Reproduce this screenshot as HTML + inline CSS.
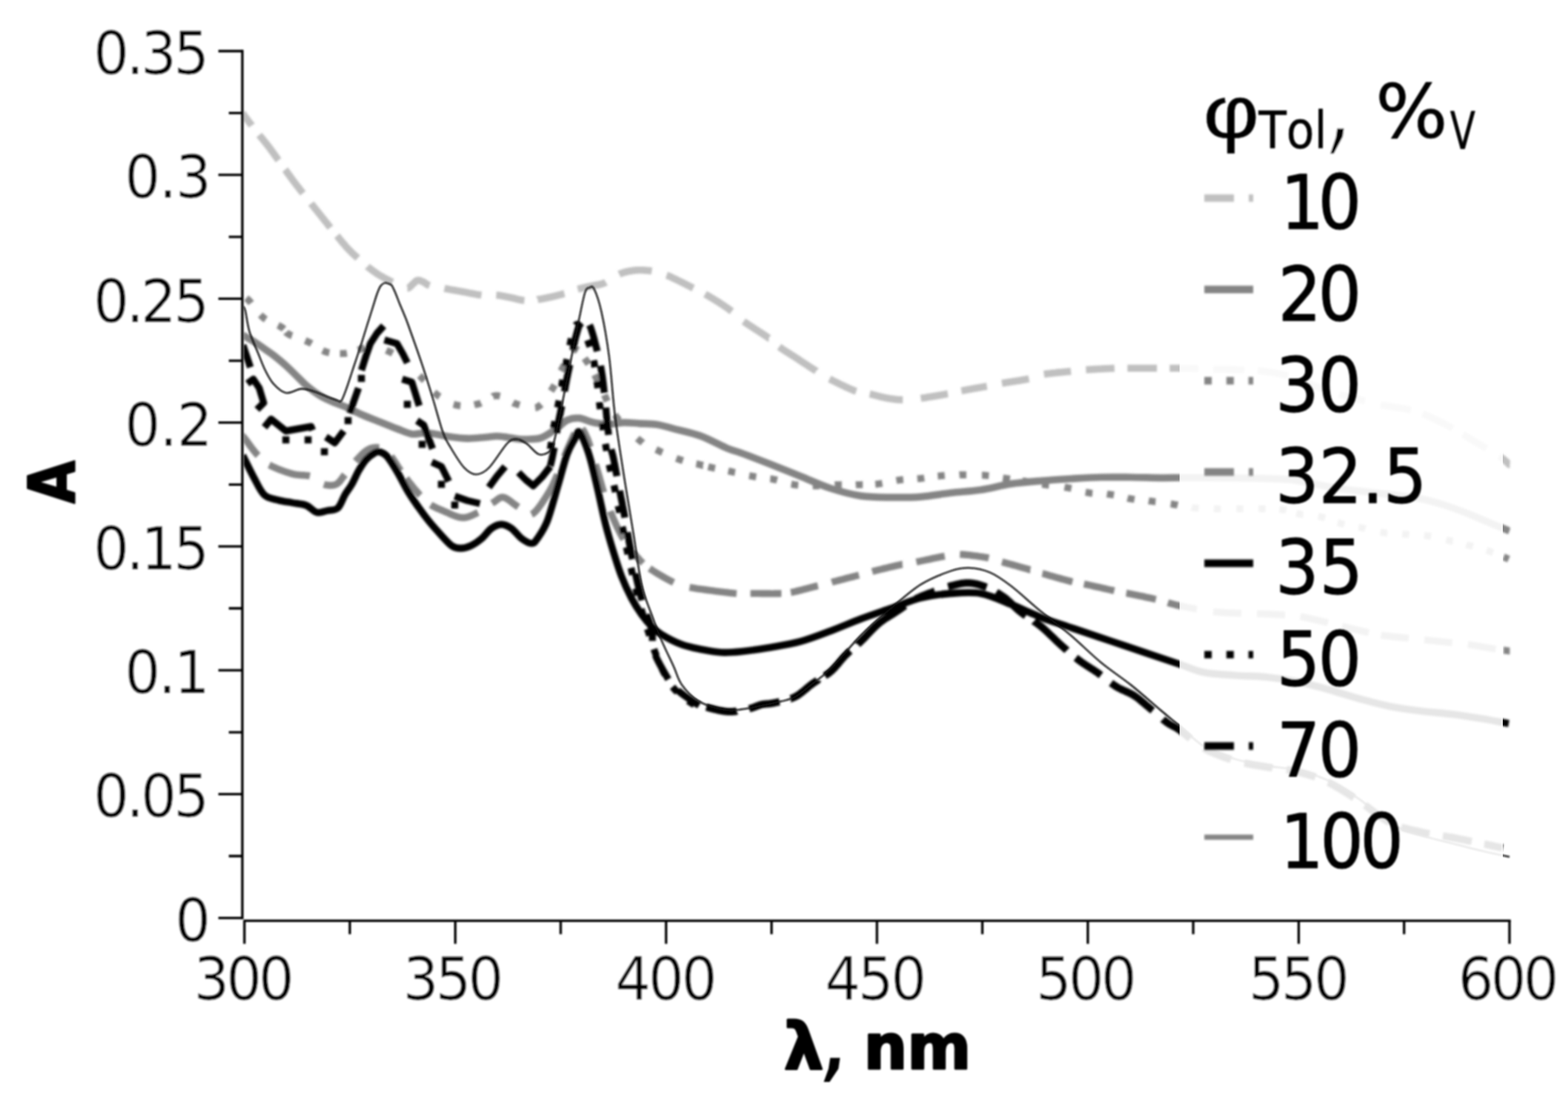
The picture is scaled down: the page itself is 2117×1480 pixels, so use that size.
<!DOCTYPE html>
<html lang="en">
<head>
<meta charset="utf-8">
<title>Absorption spectra</title>
<style>
html,body{margin:0;padding:0;background:#fff;}
body{width:2117px;height:1480px;overflow:hidden;}
svg{display:block;}
.t{font-family:'DejaVu Sans Condensed','DejaVu Sans','Liberation Sans',sans-serif;fill:#000;font-kerning:none;}
.b{font-family:'DejaVu Sans','Liberation Sans',sans-serif;font-weight:bold;fill:#000;}
.c{fill:none;stroke-linejoin:round;}
</style>
</head>
<body>
<svg width="2117" height="1480" viewBox="0 0 2117 1480">
<defs><filter id="soft" x="-2%" y="-2%" width="104%" height="104%"><feGaussianBlur stdDeviation="1.5"/></filter><filter id="soft2" x="-2%" y="-2%" width="104%" height="104%"><feGaussianBlur stdDeviation="0.8"/></filter><clipPath id="plot"><rect x="328.8" y="60" width="1710" height="1183"/></clipPath></defs>
<rect width="2117" height="1480" fill="#fff"/>
<g filter="url(#soft)">
<g class="c" clip-path="url(#plot)">
<!-- 10 -->
<path d="M327.5 153.0L327.8 153.3L328.0 153.7L328.3 154.1L328.7 154.6L329.1 155.1L329.5 155.7L329.9 156.3L330.4 156.9L330.9 157.5L331.4 158.2L331.9 158.9L332.5 159.7L333.1 160.5L333.7 161.3L334.3 162.1L335.0 163.0L335.7 163.9L336.4 164.9L337.2 165.9L338.0 166.9L338.9 168.1L339.8 169.2L340.0 169.5M350.0 182.3L350.7 183.2L351.6 184.2L352.4 185.3L353.3 186.3L354.1 187.3L355.0 188.4L355.8 189.4L356.7 190.5L357.5 191.5L358.4 192.6L359.3 193.7L360.2 194.9L361.1 196.0L362.0 197.2L363.0 198.5L364.0 199.8L365.0 201.2L366.0 202.5L367.0 204.0L368.1 205.4L369.2 206.9L370.2 208.4L371.3 209.9L372.4 211.4L373.5 212.9L374.6 214.5L375.7 216.0L376.0 216.4M385.0 229.0L385.3 229.4L386.3 230.8L387.4 232.3L388.4 233.8L389.5 235.3L390.6 236.7L391.6 238.2L392.7 239.7L393.8 241.1L394.8 242.6L395.9 244.0L397.0 245.5L398.1 247.0L399.2 248.4L400.3 249.9L401.4 251.3L402.6 252.7L403.7 254.2L404.8 255.6L405.9 257.1L407.1 258.5L408.2 259.9L409.0 260.9M420.0 274.8L420.6 275.6L421.8 277.0L422.9 278.4L424.0 279.8L425.1 281.2L426.2 282.6L427.4 284.0L428.5 285.4L429.6 286.8L430.8 288.2L431.9 289.6L433.0 291.0L434.1 292.4L435.2 293.8L436.4 295.2L437.5 296.6L438.6 298.1L439.8 299.5L440.9 300.9L442.0 302.3L443.1 303.7L444.2 305.1L445.4 306.5L446.0 307.3M455.0 318.4L455.6 319.1L456.8 320.6L457.9 322.0L459.1 323.4L460.2 324.8L461.4 326.2L462.5 327.6L463.7 328.9L464.8 330.2L465.9 331.5L466.9 332.7L468.0 333.9L469.0 335.0L470.0 336.1L470.9 337.1L471.9 338.0L472.8 338.9L473.6 339.8L474.5 340.7L475.3 341.5L476.2 342.3L477.0 343.1L477.9 343.8L478.7 344.6L479.5 345.3L480.4 346.1L481.2 346.9L482.1 347.7L483.0 348.5M496.0 359.9L496.1 360.0L497.1 360.8L498.0 361.5L498.9 362.2L499.9 362.9L500.8 363.6L501.7 364.3L502.6 365.0L503.5 365.7L504.5 366.3L505.4 367.0L506.3 367.6L507.2 368.3L508.2 368.9L509.1 369.5L510.1 370.2L511.0 370.8L512.0 371.4L513.0 372.0L514.0 372.6L515.1 373.2L516.1 373.8L517.2 374.4L518.3 375.0L519.4 375.6L520.5 376.2L521.6 376.8L522.7 377.3L523.8 377.9L524.9 378.4L526.0 379.0L527.0 379.5L528.1 380.0L529.0 380.5L530.0 381.0M550.0 389.2L550.1 389.2L550.5 389.1L551.0 389.0L551.5 388.8L551.9 388.6L552.4 388.3L552.8 388.0L553.3 387.6L553.7 387.2L554.2 386.8L554.6 386.4L555.1 385.9L555.5 385.5L555.9 385.0L556.3 384.6L556.8 384.1L557.2 383.7L557.6 383.3L558.0 383.0L558.4 382.7L558.8 382.3L559.2 382.0L559.5 381.6L559.9 381.2L560.2 380.9L560.6 380.6L560.9 380.2L561.3 379.9L561.6 379.6L562.0 379.3L562.4 379.1L562.8 378.9L563.2 378.7L563.6 378.6L564.0 378.5L564.4 378.5L564.9 378.5L565.4 378.5L565.9 378.6L566.4 378.7L566.9 378.8L567.4 379.0L567.9 379.2L568.4 379.4L568.9 379.6L569.4 379.8L570.0 380.1L570.5 380.3L571.0 380.5L571.5 380.8L572.0 381.0L572.5 381.2L572.9 381.5L573.3 381.7L573.7 382.0L574.1 382.3L574.5 382.6L574.9 382.9L575.2 383.2L575.7 383.5L576.1 383.8L576.6 384.1L577.2 384.4L577.8 384.7L578.4 384.9L579.2 385.2L580.0 385.5M600.0 389.5L601.4 389.8L602.9 390.0L604.4 390.3L605.9 390.6L607.4 390.9L609.0 391.2L610.6 391.4L612.2 391.7L613.8 392.0L615.4 392.3L617.0 392.6L618.6 392.9L620.2 393.1L621.8 393.4L623.4 393.7L625.0 394.0L626.6 394.3L628.2 394.6L629.8 394.9L631.4 395.2L633.0 395.6L634.6 395.9L636.2 396.2L637.8 396.5L639.4 396.8L641.0 397.1L642.6 397.4L644.1 397.7L645.6 397.9L647.1 398.2L648.6 398.3L650.0 398.5M670.0 398.5L671.3 398.6L672.5 398.8L673.8 398.9L675.1 399.1L676.4 399.3L677.6 399.6L678.9 399.8L680.2 400.0L681.5 400.3L682.7 400.5L684.0 400.8L685.2 401.0L686.4 401.3L687.6 401.5L688.8 401.8L690.0 402.0L691.1 402.2L692.3 402.5L693.4 402.7L694.4 403.0L695.5 403.3L696.6 403.5L697.6 403.8L698.6 404.1L699.7 404.3L700.7 404.6L701.7 404.8L702.8 405.0L703.8 405.2L704.8 405.4L705.9 405.5L707.0 405.6L708.0 405.7M726.0 404.5L726.2 404.4L727.3 404.3L728.5 404.1L729.7 403.9L730.9 403.7L732.1 403.5L733.3 403.3L734.5 403.0L735.7 402.8L736.9 402.5L738.1 402.3L739.3 402.0L740.5 401.8L741.7 401.5L742.8 401.3L744.0 401.0L745.1 400.7L746.3 400.5L747.4 400.2L748.5 400.0L749.6 399.7L750.7 399.4L751.8 399.2L752.8 398.9L753.9 398.6L755.0 398.3L756.1 398.1L757.2 397.8L758.3 397.5L759.4 397.1L760.5 396.8L761.6 396.5L762.0 396.4M780.0 390.4L781.2 390.1L782.4 389.8L783.7 389.5L785.0 389.2L786.3 388.9L787.5 388.6L788.8 388.3L790.1 388.1L791.4 387.8L792.7 387.5L794.0 387.3L795.2 387.0L796.5 386.8L797.7 386.5L798.8 386.3L800.0 386.0L801.1 385.8L802.2 385.5L803.2 385.3L804.2 385.2L805.2 385.0L806.2 384.8L807.2 384.7L808.1 384.5L809.1 384.3L810.1 384.1L811.0 383.8L812.0 383.6L813.0 383.2L814.1 382.9L815.2 382.5L816.3 382.0L817.5 381.5L818.0 381.2M836.0 370.3L836.6 370.0L837.9 369.5L839.2 369.0L840.5 368.5L841.9 368.1L843.2 367.7L844.5 367.3L845.9 367.0L847.2 366.7L848.5 366.4L849.9 366.1L851.2 365.9L852.6 365.7L853.9 365.5L855.3 365.3L856.6 365.1L858.0 365.0L859.4 364.9L860.7 364.8L862.1 364.8L863.5 364.7L865.0 364.7L866.4 364.8L867.8 364.8L869.2 364.9L870.6 365.0L872.0 365.1L873.4 365.2L874.7 365.3L876.1 365.5L877.4 365.6L878.7 365.8L880.0 366.0M900.0 371.6L900.6 371.8L901.7 372.3L902.8 372.8L903.9 373.2L905.0 373.7L906.1 374.2L907.2 374.8L908.3 375.3L909.4 375.8L910.5 376.3L911.6 376.9L912.7 377.4L913.8 377.9L914.9 378.5L916.0 379.0L917.1 379.5L918.2 380.1L919.3 380.6L920.5 381.2L921.6 381.7L922.7 382.3L923.8 382.9L924.9 383.4L926.1 384.0L927.2 384.6L928.3 385.2L929.4 385.7L930.6 386.3L931.7 386.9L932.8 387.4L933.9 388.0L935.0 388.6L936.0 389.1M952.0 397.2L952.7 397.6L953.9 398.3L955.0 398.9L956.2 399.6L957.3 400.2L958.5 400.9L959.6 401.6L960.8 402.3L961.9 403.0L963.1 403.7L964.2 404.4L965.4 405.1L966.5 405.8L967.7 406.5L968.9 407.3L970.0 408.0L971.2 408.7L972.3 409.5L973.5 410.3L974.6 411.0L975.8 411.8L977.0 412.6L978.2 413.4L979.3 414.2L980.5 414.9L981.6 415.7L982.8 416.5L983.9 417.4L985.0 418.2L986.1 419.0L987.2 419.8L988.0 420.4M1004.0 434.0L1005.6 435.1L1007.4 436.4L1009.3 437.6L1011.3 439.0L1013.5 440.4L1015.7 441.8L1017.9 443.3L1020.2 444.8L1022.5 446.2L1024.8 447.7L1027.0 449.1L1029.1 450.5L1031.2 451.9L1033.1 453.1L1034.9 454.4L1036.5 455.5L1037.9 456.6L1038.0 456.6M1052.0 468.4L1052.7 468.9L1054.0 469.8L1055.3 470.7L1056.6 471.6L1058.0 472.6L1059.5 473.5L1060.9 474.4L1062.4 475.4L1063.9 476.3L1065.4 477.3L1067.0 478.2L1068.5 479.2L1070.0 480.2L1071.5 481.1L1073.0 482.1L1074.5 483.0L1076.0 484.0L1077.5 485.0L1078.9 485.9L1080.4 486.9L1081.9 487.9L1083.4 488.9L1084.9 489.9L1086.4 490.8L1087.8 491.8L1089.3 492.8L1090.8 493.8L1092.2 494.7L1093.7 495.7L1095.1 496.6L1096.5 497.5L1097.9 498.4L1099.3 499.3L1100.6 500.1L1101.9 500.9L1102.0 501.0M1120.0 511.7L1121.4 512.4L1123.3 513.4L1125.4 514.5L1127.5 515.5L1129.8 516.7L1132.1 517.8L1134.4 519.0L1136.8 520.1L1139.2 521.2L1141.5 522.3L1143.8 523.4L1146.1 524.4L1148.2 525.3L1150.3 526.2L1152.2 527.0L1154.0 527.7L1155.7 528.3L1156.0 528.4M1174.3 532.0L1175.7 532.3L1177.0 532.7L1178.4 533.0L1179.8 533.4L1181.2 533.7L1182.7 534.1L1184.1 534.5L1185.5 534.9L1187.0 535.2L1188.4 535.6L1189.9 536.0L1191.3 536.3L1192.8 536.6L1194.2 537.0L1195.6 537.2L1197.0 537.5L1198.4 537.7L1199.8 538.0L1201.1 538.2L1202.5 538.4L1203.8 538.6L1205.2 538.8L1206.5 539.0L1207.9 539.2L1209.2 539.3L1210.5 539.5L1211.9 539.6L1213.3 539.7L1214.7 539.8L1216.1 539.8L1217.5 539.9L1218.9 539.9M1243.2 537.8L1245.2 537.5L1247.3 537.2L1249.5 536.9L1251.9 536.5L1254.3 536.1L1256.8 535.8L1259.3 535.3L1261.8 534.9L1264.3 534.5L1266.8 534.1L1269.2 533.7L1271.6 533.3L1273.8 532.9L1275.9 532.5L1277.9 532.1L1279.7 531.8M1298.0 527.7L1299.7 527.4L1301.6 527.0L1303.7 526.7L1305.8 526.3L1308.0 525.9L1310.3 525.5L1312.7 525.1L1315.1 524.6L1317.5 524.2L1319.8 523.8L1322.2 523.4L1324.4 523.0L1326.6 522.6L1328.7 522.3L1330.6 521.9L1332.4 521.6M1352.7 517.6L1354.6 517.3L1356.6 516.9L1358.8 516.6L1361.1 516.2L1363.5 515.8L1365.9 515.5L1368.4 515.1L1371.0 514.7L1373.5 514.3L1376.0 513.9L1378.4 513.5L1380.8 513.1L1383.1 512.7L1385.3 512.3L1387.3 511.9L1389.2 511.5M1409.5 505.4L1411.4 505.1L1413.4 504.8L1415.6 504.5L1417.8 504.2L1420.2 503.9L1422.7 503.7L1425.2 503.4L1427.7 503.1L1430.2 502.9L1432.7 502.7L1435.2 502.4L1437.6 502.2L1439.8 502.0L1442.0 501.8L1444.0 501.6L1445.9 501.4M1466.2 499.3L1468.1 499.2L1470.3 499.0L1472.6 498.9L1475.0 498.7L1477.6 498.6L1480.2 498.5L1482.9 498.3L1485.6 498.2L1488.3 498.0L1490.9 497.9L1493.5 497.8L1496.1 497.7L1498.5 497.5L1500.7 497.5L1502.8 497.4L1504.7 497.3M1522.2 497.3L1523.0 497.3L1524.9 497.3L1526.8 497.3L1529.0 497.3L1531.2 497.3L1533.5 497.3L1536.0 497.3L1538.4 497.3L1541.0 497.3L1543.6 497.3L1546.2 497.3L1548.8 497.3L1551.4 497.3L1554.0 497.3L1556.5 497.3L1559.1 497.3L1561.5 497.3L1562.0 497.3M1579.2 497.2L1580.8 497.2L1583.2 497.2L1585.6 497.2L1588.0 497.2L1590.4 497.2L1592.8 497.2L1595.2 497.2L1597.6 497.3L1600.0 497.3L1602.4 497.3L1604.7 497.4L1607.1 497.5L1609.4 497.5L1611.8 497.6L1614.1 497.7L1616.4 497.8L1618.0 497.8M1638.0 498.5L1640.6 498.6L1643.2 498.6L1645.9 498.7L1648.7 498.7L1651.5 498.8L1654.4 498.8L1657.2 498.9L1660.1 498.9L1662.9 499.0L1665.6 499.1L1668.3 499.1L1670.9 499.2L1673.4 499.2L1675.7 499.3L1677.9 499.3L1680.0 499.4M1698.0 500.2L1699.2 500.4L1701.0 500.6L1702.9 500.9L1704.9 501.1L1707.0 501.4L1709.2 501.7L1711.4 502.0L1713.7 502.4L1716.1 502.7L1718.5 503.1L1721.0 503.6L1723.6 504.0L1726.2 504.6L1728.8 505.1L1731.6 505.8L1734.3 506.4L1737.1 507.2L1739.0 507.7M1755.0 513.2L1756.1 513.6L1759.6 515.0L1763.1 516.4L1766.6 517.8L1770.2 519.2L1773.7 520.6L1777.1 522.0L1780.5 523.3L1783.9 524.6L1787.0 525.8L1790.0 526.9M1808.0 532.4L1808.2 532.5L1810.4 533.1L1812.7 533.6L1814.8 534.2L1817.0 534.7L1819.2 535.3L1821.3 535.8L1823.4 536.3L1825.6 536.9L1827.8 537.4L1830.0 538.0L1832.2 538.6L1834.4 539.2L1836.6 539.8L1838.7 540.3L1840.9 540.9L1843.0 541.5L1843.0 541.5M1864.0 546.6L1864.5 546.7L1866.8 547.2L1869.1 547.6L1871.5 548.0L1874.0 548.4L1876.4 548.8L1878.9 549.1L1881.4 549.5L1883.8 549.9L1886.3 550.2L1888.7 550.6L1891.1 551.0L1893.4 551.3L1895.7 551.7L1897.9 552.1L1900.0 552.6L1902.0 553.0L1903.9 553.5L1905.0 553.7M1920.6 558.7L1921.9 559.3L1923.5 559.9L1925.2 560.6L1927.0 561.4L1928.9 562.2L1930.9 563.1L1933.0 564.1L1935.1 565.1L1937.3 566.1L1939.6 567.2L1941.9 568.3L1944.1 569.4L1946.4 570.6L1948.7 571.7L1950.9 572.8L1953.0 573.9L1955.1 575.0L1957.1 576.1L1959.0 577.1L1960.8 578.0L1961.5 578.4M1975.0 586.5L1975.4 586.7L1976.8 587.6L1978.3 588.5L1979.9 589.6L1981.8 590.7L1983.9 592.0L1986.2 593.3L1988.8 594.8L1991.5 596.4L1994.3 598.1L1997.2 599.8L2000.2 601.5L2003.2 603.3L2006.2 605.1L2007.0 605.6M2024.0 616.0L2025.4 616.9L2026.9 618.0L2028.3 619.0L2029.6 619.9L2030.7 620.8L2031.7 621.7L2032.6 622.5L2033.5 623.2L2034.2 623.9L2034.9 624.6L2035.5 625.2L2036.1 625.7L2036.6 626.2L2037.1 626.7L2037.5 627.1L2038.0 627.5L2038.5 627.5" stroke="#c0c0c0" stroke-width="9.6"/>
<!-- 20 -->
<path d="M327.5 452.5C330.5 454.2 340.6 459.9 345.5 463.0C350.4 466.1 353.0 468.2 356.8 470.9C360.6 473.5 364.4 476.0 368.2 478.9C372.0 481.8 375.7 484.8 379.5 488.0C383.3 491.2 387.1 494.6 390.9 498.2C394.7 501.8 398.5 505.8 402.3 509.5C406.1 513.2 409.8 517.2 413.6 520.5C417.4 523.8 421.2 526.8 425.0 529.5C428.8 532.2 432.6 534.7 436.4 536.8C440.2 538.9 443.9 540.4 447.7 542.0C451.5 543.6 455.3 545.0 459.0 546.5C462.7 548.0 465.0 548.7 470.0 551.0C475.0 553.3 482.1 557.1 489.2 560.2C496.3 563.3 505.0 566.6 512.9 569.7C520.8 572.9 529.4 576.4 536.5 579.1C543.6 581.8 549.9 585.0 555.5 586.0C561.1 587.0 565.3 585.1 570.0 585.0C574.7 584.9 577.6 584.7 583.9 585.5C590.1 586.3 599.6 588.7 607.5 589.8C615.4 590.9 623.3 592.0 631.2 592.1C639.1 592.2 648.3 591.0 654.8 590.5C661.3 590.0 665.4 589.0 670.4 589.0C675.4 589.0 679.9 589.8 685.0 590.5C690.1 591.2 695.6 592.6 700.8 593.0C706.0 593.4 710.9 593.3 716.0 593.0C721.1 592.7 725.3 593.4 731.2 591.0C737.1 588.6 745.7 582.7 751.4 578.8C757.1 574.9 760.5 569.9 765.6 567.5C770.7 565.1 775.7 564.2 781.8 564.7C787.9 565.2 795.2 569.4 802.0 570.7C808.8 572.1 815.6 572.8 822.4 572.8C829.2 572.8 835.8 570.9 842.6 570.7C849.4 570.5 855.7 571.4 863.0 571.8C870.3 572.2 878.6 572.0 886.5 573.2C894.4 574.4 900.3 576.5 910.2 579.1C920.1 581.7 933.9 584.3 945.7 588.6C957.5 592.9 972.2 601.3 981.2 605.1C990.2 608.9 990.1 607.9 1000.0 611.5C1009.9 615.1 1027.0 621.7 1040.5 627.0C1054.0 632.3 1067.5 637.8 1081.0 643.2C1094.5 648.6 1108.1 655.1 1121.6 659.5C1135.1 663.9 1148.7 667.6 1162.2 669.6C1175.7 671.6 1189.2 671.4 1202.7 671.6C1216.2 671.8 1229.7 671.8 1243.2 670.8C1256.7 669.8 1270.3 667.0 1283.8 665.5C1297.3 664.0 1310.8 663.5 1324.3 661.5C1337.8 659.5 1351.4 655.4 1364.9 653.4C1378.4 651.4 1391.9 650.4 1405.4 649.3C1418.9 648.1 1432.4 647.3 1445.9 646.5C1459.4 645.7 1473.0 644.8 1486.5 644.5C1500.0 644.2 1513.5 644.4 1527.0 644.5C1540.5 644.6 1555.4 645.2 1567.6 645.3C1579.8 645.4 1586.3 645.0 1600.0 645.0C1613.7 645.0 1633.3 645.2 1650.0 645.3C1666.7 645.4 1685.0 645.4 1700.0 645.8C1715.0 646.2 1729.7 646.6 1740.0 647.5C1750.3 648.4 1750.5 649.0 1761.7 651.0C1772.9 653.0 1791.9 657.2 1807.0 659.5C1822.1 661.8 1833.6 662.6 1852.5 665.0C1871.4 667.4 1901.7 670.2 1920.6 674.0C1939.5 677.8 1950.9 682.2 1966.0 687.5C1981.1 692.8 1999.4 701.1 2011.4 706.0C2023.4 710.9 2033.6 715.2 2038.0 717.0" stroke="#848484" stroke-width="9.7"/>
<!-- 30 -->
<path d="M332.4 402.6L332.9 403.0L333.5 403.5L334.3 404.1L335.0 404.8L335.8 405.5L336.7 406.4L337.6 407.4L338.5 408.5L339.1 409.3M351.6 425.2L352.9 426.5L354.2 427.8L355.6 429.0L357.0 430.1L358.5 431.1L358.8 431.3M375.4 439.3L376.6 439.9L378.0 440.6L379.3 441.3L380.4 442.0L381.4 442.7L382.2 443.3L382.9 444.0L383.3 444.4M386.2 448.6L386.6 449.1L387.2 449.6L388.0 450.2L388.9 450.8L389.9 451.4L391.1 452.0L392.5 452.7L394.0 453.3L394.3 453.4M412.1 459.9L413.7 460.6L415.4 461.3L417.0 462.0L418.5 462.8L420.0 463.6L420.7 464.0M435.6 473.3L436.8 473.9L438.2 474.5L439.6 475.0L441.1 475.5L442.5 475.8L444.1 476.2L444.6 476.3M459.0 477.5L459.2 477.5L460.6 477.4L461.9 477.4L463.2 477.4L464.4 477.4L465.6 477.3L466.7 477.2L467.8 477.0L468.4 476.9M483.6 472.8L484.6 472.4L485.8 471.9L487.0 471.4L488.2 470.9L489.4 470.4L490.7 469.9L491.9 469.4L492.4 469.2M521.6 473.1L522.9 473.7L524.5 474.3L526.0 475.0L527.5 475.7L528.9 476.5L530.2 477.2M566.4 507.1L567.1 507.8L568.4 509.2L569.7 510.5L571.0 511.9L572.2 513.3L572.9 514.0M586.2 529.9L587.0 530.6L588.4 531.8L589.8 533.0L591.3 534.1L592.8 535.3L593.6 535.8M612.4 545.9L613.5 546.2L615.2 546.8L617.0 547.2L618.8 547.5L620.6 547.8L621.7 547.9M640.4 546.6L640.8 546.5L642.6 546.2L644.3 545.8L646.0 545.4L647.6 544.9L649.3 544.3L649.5 544.2M665.7 535.2L665.8 535.1L667.3 534.7L668.8 534.4L670.4 534.3L672.0 534.4L673.6 534.7L675.0 535.0M692.6 543.8L693.3 544.2L695.0 544.8L696.7 545.4L698.4 545.9L700.2 546.5L701.5 546.9M722.6 550.7L723.4 550.6L725.0 550.0L726.5 549.2L728.1 548.2L729.6 547.0L730.7 546.0M743.9 528.0L744.2 527.5L745.3 525.7L746.4 524.0L747.4 522.3L748.4 520.6L748.8 519.9M757.4 501.0L757.9 500.1L758.7 498.4L759.6 496.8L760.5 495.1L761.5 493.3L761.9 492.6M772.3 474.8L772.9 474.1L773.9 473.1L775.0 472.4L776.0 472.0L777.0 471.8L778.0 471.9L779.0 472.2L780.0 472.7L780.5 473.0M789.3 483.8L789.9 484.7L790.9 486.2L792.0 487.7L793.1 489.2L794.1 490.9L794.6 491.7M802.8 506.2L803.0 506.6L804.2 508.8L805.3 511.0L806.5 513.2L807.2 514.6M816.1 533.2L816.7 534.7L817.9 537.2L819.0 539.8L819.9 541.9M830.1 560.2L831.8 562.4L833.6 564.8L835.6 567.2L836.0 567.6M860.4 591.9L862.1 593.4L864.0 595.0L865.9 596.5L867.7 597.8L867.8 597.9M885.7 607.1L887.0 607.7L888.7 608.4L890.3 609.2L892.0 610.0L893.6 610.8L894.3 611.1M913.1 619.0L913.9 619.3L915.6 619.9L917.3 620.5L919.1 621.1L920.9 621.6L922.1 622.0M940.0 626.3L941.2 626.5L942.8 626.9L944.3 627.3L945.7 627.6L947.0 627.9L948.1 628.2L949.0 628.5L949.2 628.5M956.2 630.3L956.6 630.4L957.5 630.7L958.6 630.9L959.9 631.2L961.3 631.5L962.8 631.8L964.4 632.2L965.4 632.4M983.2 636.0L984.7 636.3L986.5 636.7L988.3 637.1L990.1 637.5L991.8 637.9L992.4 638.0M1011.5 642.3L1012.7 642.5L1014.4 642.9L1016.2 643.2L1018.0 643.5L1019.7 643.8L1020.9 644.0M1039.9 646.5L1041.0 646.6L1042.8 647.0L1044.6 647.3L1046.4 647.7L1048.1 648.1L1049.2 648.4M1068.3 653.7L1069.4 653.9L1071.2 654.3L1073.0 654.6L1074.8 654.9L1076.6 655.1L1077.7 655.2M1097.3 656.0L1098.3 656.0L1100.2 656.0L1102.0 656.0L1103.8 656.0L1105.7 655.9L1106.7 655.9M1127.1 654.8L1128.1 654.7L1130.0 654.7L1131.8 654.6L1133.6 654.6L1135.4 654.5L1136.5 654.5M1155.4 654.7L1156.7 654.6L1158.4 654.6L1160.1 654.6L1161.8 654.6L1163.5 654.5L1164.8 654.5M1181.8 653.9L1183.1 653.8L1184.8 653.6L1186.5 653.4L1188.2 653.2L1190.0 652.9L1191.2 652.7M1210.2 648.8L1211.3 648.6L1213.1 648.3L1214.9 648.1L1216.7 647.9L1218.4 647.7L1219.6 647.6M1238.5 646.5L1239.7 646.4L1241.5 646.3L1243.2 646.1L1244.9 645.9L1246.7 645.7L1247.9 645.5M1266.1 642.9L1267.3 642.8L1269.0 642.6L1270.8 642.4L1272.6 642.3L1274.4 642.1L1275.5 642.0M1295.3 641.3L1296.3 641.2L1298.1 641.2L1300.0 641.2L1301.9 641.2L1303.8 641.2L1304.7 641.2M1325.7 641.7L1326.7 641.7L1328.6 641.9L1330.4 642.0L1332.2 642.2L1334.1 642.4L1335.1 642.5M1354.1 645.4L1355.4 645.6L1357.1 645.8L1358.8 646.1L1360.5 646.3L1362.2 646.6L1363.5 646.8M1380.3 649.3L1381.7 649.5L1383.4 649.7L1385.0 650.0L1386.6 650.3L1388.3 650.5L1389.7 650.8M1406.8 653.9L1408.0 654.0L1409.7 654.3L1411.5 654.6L1413.3 654.9L1415.1 655.1L1416.2 655.2M1437.2 657.8L1438.2 658.0L1440.0 658.3L1441.9 658.6L1443.7 659.0L1445.5 659.4L1446.5 659.6M1465.6 664.6L1466.8 664.8L1468.5 665.2L1470.3 665.5L1472.1 665.8L1473.8 666.0L1475.0 666.1M1494.5 667.1L1495.1 667.2L1496.8 667.4L1498.6 667.6L1500.4 667.9L1502.1 668.2L1503.9 668.5M1522.3 672.7L1523.4 673.0L1525.2 673.3L1527.0 673.6L1528.8 673.9L1530.5 674.1L1531.7 674.3M1550.8 676.3L1551.9 676.5L1553.6 676.7L1555.4 676.9L1557.2 677.1L1558.9 677.4L1560.2 677.5M1580.6 680.5L1582.0 680.7L1583.8 681.0L1585.6 681.3L1587.4 681.6L1589.2 681.9L1590.0 682.1M1609.1 685.4L1609.3 685.5L1611.2 685.7L1613.0 685.9L1614.8 686.1L1616.7 686.2L1618.5 686.4L1618.5 686.4M1638.9 686.9L1640.6 687.0L1642.4 687.0L1644.2 687.0L1646.0 687.1L1647.9 687.1L1648.3 687.1M1669.3 687.0L1669.8 687.0L1671.8 687.0L1673.8 687.0L1675.8 687.0L1677.9 687.0L1678.7 687.0M1699.1 686.9L1699.5 686.9L1701.5 687.0L1703.4 687.0L1705.3 687.0L1707.1 687.0L1708.5 687.0M1727.3 687.6L1727.3 687.6L1728.8 687.8L1730.4 688.0L1732.0 688.3L1733.5 688.5L1735.1 688.9L1736.6 689.3L1736.6 689.3M1750.2 693.1L1750.6 693.2L1752.3 693.6L1753.9 694.0L1755.6 694.3L1757.3 694.6L1759.1 694.9L1759.5 694.9M1779.7 697.4L1781.4 697.7L1783.2 698.0L1784.9 698.4L1786.6 698.8L1788.2 699.3L1789.0 699.5M1805.9 705.6L1806.7 705.8L1808.3 706.3L1810.0 706.8L1811.7 707.2L1813.5 707.7L1815.1 708.1M1834.2 712.0L1835.6 712.2L1837.5 712.6L1839.3 713.0L1841.1 713.4L1843.0 713.8L1843.5 714.0M1863.7 718.6L1865.0 718.8L1866.9 719.1L1868.7 719.4L1870.5 719.6L1872.4 719.9L1873.1 719.9M1893.2 721.2L1894.3 721.3L1896.2 721.4L1898.0 721.5L1899.8 721.6L1901.7 721.7L1902.6 721.8M1922.7 723.0L1923.6 723.1L1925.5 723.4L1927.3 723.6L1929.1 723.9L1931.0 724.2L1932.1 724.4M1952.4 728.9L1953.1 729.1L1954.9 729.5L1956.6 729.9L1958.3 730.3L1959.9 730.7L1961.5 731.0L1961.6 731.0M1979.6 735.4L1980.1 735.6L1981.8 736.0L1983.5 736.5L1985.3 736.9L1987.1 737.4L1988.8 737.9M2006.9 743.1L2007.5 743.3L2009.3 743.9L2011.0 744.5L2012.8 745.1L2014.6 745.8L2015.9 746.3M2030.1 752.1L2030.9 752.4L2032.4 753.1L2033.8 753.7L2035.0 754.2L2036.1 754.6L2037.0 755.0" stroke="#848484" stroke-width="9.4"/>
<!-- 32.5 -->
<path d="M327.5 589.0L327.7 589.0L327.8 589.1L327.8 589.2L327.9 589.2L327.9 589.2L328.0 589.3L328.0 589.3L328.1 589.4L328.2 589.5L328.3 589.6L328.5 589.8L328.7 590.0L329.0 590.4L329.3 590.8L329.8 591.3L330.2 591.9L330.8 592.6L331.5 593.5L332.2 594.5L333.1 595.6L334.0 596.8L335.0 598.2L336.0 599.6L337.1 601.1L338.2 602.6L339.4 604.1L340.5 605.7L341.7 607.2L342.9 608.7L344.0 610.1L345.1 611.5L346.2 612.7L347.3 613.9L348.3 615.0L348.4 615.1M363.5 627.8L363.9 628.0L365.4 628.8L367.1 629.7L368.9 630.5L370.7 631.3L372.6 632.2L374.6 633.0L376.6 633.8L378.7 634.6L380.7 635.4L382.8 636.1L384.9 636.9L386.9 637.6L388.9 638.2L390.9 638.8L392.8 639.4L394.6 639.9L396.4 640.3L398.1 640.7L399.9 641.0L401.7 641.2L403.4 641.4L405.1 641.5L406.8 641.6L408.5 641.7L410.1 641.8L411.7 641.9L413.3 642.1L414.9 642.2L416.4 642.4L417.8 642.7L418.3 642.8M437.3 654.0L438.2 654.3L439.3 654.6L440.4 654.8L441.5 655.0L442.5 655.2L443.6 655.3L444.7 655.4L445.8 655.5L446.9 655.5L447.9 655.4L449.0 655.3L450.0 655.2L451.0 655.0L452.0 654.7L452.9 654.4L453.8 654.0L454.7 653.6L455.5 653.0L456.3 652.4L457.0 651.8L457.8 651.1L458.5 650.3L459.2 649.5L459.9 648.6L460.5 647.7L461.2 646.8L461.9 645.9L462.6 644.9L463.3 643.9L464.0 643.0L464.8 642.0L465.6 641.0M480.0 622.8L480.8 621.9L481.8 620.9L482.8 619.8L483.8 618.7L484.8 617.6L485.9 616.5L487.0 615.4L488.0 614.3L489.1 613.3L490.1 612.3L491.2 611.3L492.2 610.4L493.3 609.6L494.3 608.8L495.3 608.1L496.3 607.5L497.3 607.0L498.2 606.5L499.2 606.0L500.1 605.6L501.1 605.3L502.0 605.0L502.9 604.8L503.9 604.6L504.8 604.5L505.7 604.4L506.6 604.3L507.5 604.3L508.4 604.3L509.3 604.3L510.1 604.4L511.0 604.5L511.8 604.6L512.0 604.6M528.0 616.0L528.5 616.8L529.8 618.6L531.0 620.4L532.3 622.4L533.6 624.4L534.9 626.4L536.3 628.5L537.6 630.6L538.9 632.6L540.2 634.6L541.0 635.7M548.4 645.9L548.9 646.5L550.1 648.1L551.3 649.7L552.5 651.3L553.8 652.8L554.9 654.3L556.1 655.8L557.3 657.3L558.5 658.7L559.6 660.1L560.8 661.4L561.9 662.7L563.0 664.0L564.1 665.2L565.1 666.4L566.1 667.6L567.1 668.7L567.3 668.9M581.5 681.7L582.3 682.2L583.4 682.9L584.5 683.5L585.6 684.1L586.7 684.7L587.9 685.2L589.0 685.8L590.2 686.3L591.4 686.8L592.7 687.4L594.0 687.9L595.3 688.5L596.6 689.0L598.0 689.6L599.4 690.2L600.9 690.9L602.5 691.6L604.1 692.3L605.8 693.1L607.4 693.9L609.1 694.6L610.9 695.3L612.6 696.0L614.3 696.7L616.0 697.3L617.7 697.8L619.3 698.3L620.9 698.6L622.5 698.9L624.0 699.0L625.5 699.0L626.9 699.0L628.3 698.8L629.7 698.6L631.0 698.2L632.4 697.9L633.7 697.4L635.0 696.9L636.3 696.4L637.6 695.8L638.9 695.2L640.2 694.6L641.5 694.0L642.8 693.3L644.1 692.6L645.4 692.0M664.3 679.6L665.1 679.1L666.2 678.4L667.2 677.8L668.2 677.1L669.1 676.4L670.0 675.8L670.8 675.1L671.6 674.5L672.3 673.9L673.1 673.4L673.8 672.9L674.6 672.5L675.3 672.1L676.1 671.8L676.9 671.6L677.8 671.5L678.7 671.5L679.7 671.6L680.7 671.8L681.8 672.2L682.9 672.7L684.0 673.3L685.2 674.1L686.4 674.8L687.6 675.7L688.8 676.6L690.0 677.5L691.3 678.5L692.5 679.5L693.7 680.4L695.0 681.3L696.2 682.2L697.4 683.0L698.6 683.8L699.8 684.6L699.8 684.6M717.6 694.6L718.9 694.0L720.2 693.0L721.6 691.9L723.0 690.5L724.4 689.0L725.9 687.2L727.3 685.4L728.7 683.5L730.2 681.5L731.6 679.4L733.0 677.3L734.3 675.2L735.6 673.2L736.9 671.2L738.1 669.4L739.2 667.6L740.3 665.9L741.3 664.3L742.2 662.6L743.1 661.0L744.0 659.4L744.9 657.7L745.7 656.1L746.5 654.5L747.2 652.8L748.0 651.1L748.8 649.4L749.5 647.7L750.3 646.0L751.1 644.2L751.9 642.4L752.7 640.5M762.0 616.6L762.6 615.2L763.4 613.1L764.3 611.0L765.1 609.0L766.0 607.0L766.9 605.0L767.8 602.9L768.8 600.7L769.7 598.5L770.7 596.2L771.7 594.0L772.7 591.8L773.6 589.7L774.6 587.6L775.6 585.7L776.0 584.9M786.0 578.9L786.6 579.7L787.3 580.6L787.9 581.6L788.5 582.8L789.2 584.1L789.9 585.4L790.6 586.9L791.3 588.4L792.0 590.0L792.8 591.7L793.5 593.6L794.3 595.6L795.1 597.8L795.8 600.1L796.6 602.5L797.0 603.6M804.0 626.7L804.1 627.2L805.0 630.0L805.9 632.9L806.7 635.8L807.6 638.8L808.5 641.9L809.4 645.1L810.3 648.2L811.2 651.5L812.1 654.7L813.0 657.9L813.9 661.2L814.9 664.4L815.0 664.8M824.0 690.4L824.6 692.0L825.9 695.0L827.1 698.0L828.4 701.0L829.7 703.9L831.0 706.8L832.3 709.7L833.6 712.4L834.9 715.1L836.2 717.7L837.5 720.3L838.7 722.7L840.0 725.0L841.3 727.2L842.0 728.4M854.0 745.0L855.2 746.5L856.4 747.9L857.6 749.3L858.8 750.7L860.0 752.0L861.1 753.3L862.2 754.5L863.2 755.6L864.1 756.6L865.0 757.6L865.9 758.5L866.8 759.4L867.7 760.3L868.0 760.6M877.0 767.6L878.6 768.7L880.4 769.9L882.3 771.1L884.3 772.4L886.4 773.7L888.5 775.0L890.7 776.3L893.0 777.6L895.2 778.9L897.4 780.2L899.6 781.4L901.8 782.6L903.9 783.7L905.9 784.7L907.7 785.6L909.5 786.5M931.0 793.2L933.8 793.7L937.1 794.2L940.7 794.8L944.6 795.3L948.7 795.9L953.1 796.5L957.5 797.1L962.0 797.7L966.5 798.3L971.0 798.9L975.3 799.4L979.5 799.9L983.4 800.3L987.0 800.8L990.3 801.1L993.2 801.4L994.5 801.5M1013.2 801.4L1014.4 801.4L1016.2 801.4L1018.2 801.4L1020.4 801.4L1022.8 801.4L1025.3 801.4L1027.8 801.5L1030.5 801.5L1033.2 801.5L1035.9 801.5L1038.6 801.5L1041.2 801.6L1043.8 801.6L1046.3 801.5L1048.6 801.5L1050.8 801.5L1052.9 801.5L1054.7 801.4L1055.0 801.4M1067.7 800.0L1068.3 799.9L1069.6 799.6L1071.0 799.3L1072.6 799.0L1074.4 798.6L1076.3 798.1L1078.3 797.6L1080.3 797.1L1082.5 796.6L1084.7 796.0L1087.0 795.4L1089.2 794.9L1091.4 794.3L1093.6 793.7L1095.8 793.2L1097.9 792.6L1099.8 792.1L1101.7 791.6L1103.4 791.2L1104.3 791.0M1123.0 786.2L1123.6 786.0L1125.4 785.5L1127.3 785.0L1129.4 784.5L1131.5 783.9L1133.7 783.4L1136.0 782.8L1138.4 782.2L1140.7 781.5L1143.1 780.9L1145.4 780.3L1147.7 779.7L1150.0 779.1L1152.2 778.6L1154.3 778.0L1156.3 777.5L1158.1 777.0L1159.7 776.6M1177.6 771.7L1178.7 771.4L1180.4 771.0L1182.2 770.5L1184.2 770.1L1186.3 769.5L1188.5 769.0L1190.7 768.5L1193.0 767.9L1195.3 767.3L1197.6 766.8L1200.0 766.2L1202.3 765.7L1204.6 765.1L1206.8 764.6L1209.0 764.1L1211.1 763.6L1213.1 763.2L1214.9 762.8L1216.6 762.4L1218.2 762.1L1218.4 762.1M1237.2 758.8L1239.2 758.4L1241.4 758.0L1243.7 757.5L1246.1 757.0L1248.6 756.5L1251.3 755.9L1253.9 755.4L1256.6 754.8L1259.2 754.2L1261.9 753.7L1264.5 753.2L1267.0 752.7L1269.4 752.2L1271.6 751.7L1273.8 751.3L1275.5 751.0M1296.0 748.6L1297.9 748.7L1299.9 748.8L1302.1 749.0L1304.3 749.2L1306.7 749.4L1309.2 749.7L1311.7 750.0L1314.2 750.3L1316.7 750.6L1319.2 750.9L1321.7 751.3L1324.1 751.6L1326.3 752.0L1328.5 752.3L1330.5 752.7L1332.4 753.0L1334.1 753.3L1335.0 753.5M1352.8 758.8L1354.6 759.3L1356.6 759.9L1358.8 760.5L1361.1 761.1L1363.5 761.8L1365.9 762.4L1368.4 763.1L1371.0 763.8L1373.5 764.5L1376.0 765.2L1378.4 765.9L1380.8 766.6L1383.1 767.2L1385.3 767.8L1387.3 768.4L1389.2 768.9L1390.9 769.4L1391.0 769.4M1407.3 774.4L1407.8 774.5L1409.5 775.0L1411.4 775.5L1413.4 776.1L1415.6 776.7L1417.8 777.4L1420.2 778.1L1422.7 778.8L1425.2 779.5L1427.7 780.2L1430.2 780.9L1432.7 781.6L1435.2 782.3L1437.6 782.9L1439.8 783.5L1442.0 784.1L1444.0 784.6L1445.9 785.1L1447.6 785.5L1448.0 785.6M1463.5 788.6L1464.5 788.8L1466.2 789.2L1468.1 789.6L1470.1 790.0L1472.3 790.5L1474.6 791.0L1477.0 791.6L1479.4 792.1L1481.9 792.7L1484.5 793.2L1487.0 793.8L1489.5 794.4L1491.9 794.9L1494.3 795.5L1496.6 796.0L1498.8 796.5L1500.8 796.9L1502.7 797.3L1504.4 797.7L1504.4 797.7M1520.6 800.9L1521.3 801.0L1523.0 801.4L1524.9 801.8L1527.0 802.2L1529.2 802.7L1531.5 803.1L1534.0 803.6L1536.5 804.1L1539.0 804.7L1541.6 805.2L1544.2 805.7L1546.8 806.3L1549.4 806.8L1552.0 807.4L1554.5 807.9L1556.9 808.5L1559.3 809.0L1560.6 809.3M1576.8 813.8L1578.0 814.2L1579.8 814.7L1581.6 815.2L1583.5 815.7L1585.4 816.2L1587.5 816.8L1589.7 817.3L1592.0 817.8L1594.5 818.3L1597.1 818.9L1599.8 819.4L1602.6 820.0L1605.5 820.6L1608.5 821.1L1611.5 821.7L1614.5 822.3L1616.0 822.5M1638.0 826.0L1640.6 826.3L1643.2 826.6L1645.8 826.8L1648.4 827.0L1650.9 827.2L1653.4 827.4L1655.9 827.5L1658.3 827.6L1660.7 827.7L1663.1 827.8L1665.4 827.9L1667.6 828.0L1669.8 828.1L1671.9 828.1L1674.0 828.2L1676.0 828.3M1697.0 828.7L1697.6 828.7L1699.2 828.7L1701.0 828.8L1702.9 828.9L1704.9 828.9L1706.9 829.0L1709.1 829.1L1711.3 829.2L1713.5 829.3L1715.8 829.4L1718.0 829.5L1720.3 829.6L1722.5 829.7L1724.7 829.8L1726.9 829.9L1729.0 830.1L1730.9 830.2L1732.8 830.3L1734.6 830.4L1735.0 830.4M1755.6 832.5L1757.5 832.9L1759.5 833.2L1761.6 833.7L1763.8 834.1L1766.1 834.6L1768.4 835.2L1770.8 835.7L1773.3 836.3L1775.8 836.8L1778.3 837.4L1780.8 838.0L1783.3 838.6L1785.8 839.2L1788.2 839.8L1790.6 840.3L1793.0 840.9M1812.0 845.6L1814.0 846.1L1816.3 846.7L1818.6 847.2L1820.9 847.8L1823.2 848.4L1825.5 848.9L1827.8 849.5L1830.0 850.0L1832.2 850.5L1834.4 851.0L1836.6 851.6L1838.7 852.1L1840.9 852.6L1843.0 853.1L1845.1 853.6L1847.2 854.1L1848.0 854.3M1864.5 857.6L1866.8 858.0L1869.2 858.3L1871.6 858.6L1874.1 858.9L1876.6 859.2L1879.1 859.5L1881.6 859.8L1884.1 860.0L1886.6 860.3L1889.0 860.5L1891.4 860.7L1893.7 861.0L1895.9 861.2L1898.1 861.4L1900.1 861.6L1902.0 861.8M1923.0 864.0L1924.9 864.2L1927.0 864.4L1929.3 864.7L1931.7 864.9L1934.1 865.2L1936.7 865.4L1939.3 865.7L1941.9 866.0L1944.5 866.3L1947.1 866.6L1949.7 866.8L1952.1 867.1L1954.5 867.3L1956.8 867.6L1958.9 867.8L1960.8 868.0M1981.8 870.2L1983.7 870.5L1985.9 870.8L1988.1 871.2L1990.5 871.6L1993.0 872.0L1995.6 872.4L1998.2 872.9L2000.9 873.3L2003.5 873.8L2006.1 874.2L2008.6 874.7L2011.1 875.1L2013.4 875.5L2015.6 875.9L2017.7 876.2L2019.5 876.5M2030.0 878.1L2030.6 878.1L2031.6 878.3L2032.6 878.4L2033.5 878.5L2034.3 878.6L2035.1 878.7L2035.8 878.8L2036.4 878.9L2037.0 879.0L2038.5 879.0" stroke="#848484" stroke-width="9.4"/>
<!-- 35 -->
<path d="M327.7 615.0C330.2 619.9 337.8 635.7 342.6 644.6C347.5 653.5 351.3 663.2 356.8 668.3C362.3 673.4 369.4 673.6 375.7 675.4C382.0 677.2 388.3 677.7 394.6 678.9C400.9 680.1 408.0 680.3 413.5 682.5C419.0 684.7 423.0 690.7 427.7 691.9C432.4 693.1 437.2 690.6 441.9 689.6C446.6 688.6 452.2 689.5 456.1 686.0C460.1 682.5 462.5 673.6 465.6 668.3C468.8 663.0 471.9 659.5 475.0 654.0C478.1 648.5 481.3 640.7 484.5 635.2C487.7 629.7 490.4 625.0 494.0 621.0C497.6 617.0 502.7 613.3 505.8 611.5C508.9 609.7 510.1 609.5 512.9 610.3C515.7 611.1 518.5 611.7 522.4 616.2C526.3 620.7 531.8 629.6 536.5 637.5C541.2 645.4 546.0 655.6 550.7 663.5C555.4 671.4 560.2 678.1 564.9 684.8C569.6 691.5 574.0 697.5 579.1 703.8C584.2 710.1 590.6 717.2 595.7 722.7C600.8 728.2 605.6 734.0 609.9 736.9C614.2 739.8 617.4 740.4 621.7 740.4C626.0 740.4 631.2 739.1 635.9 736.9C640.6 734.7 645.5 731.3 650.1 727.4C654.7 723.5 659.0 716.7 663.5 713.5C668.0 710.3 672.5 708.1 677.0 708.1C681.5 708.1 686.0 710.4 690.5 713.5C695.0 716.6 699.5 723.6 704.0 727.0C708.5 730.4 714.0 733.8 717.6 733.8C721.2 733.8 722.1 732.2 725.7 727.0C729.3 721.8 734.6 714.7 739.2 702.7C743.8 690.7 749.1 669.9 753.5 655.0C757.9 640.1 761.9 623.6 765.6 613.3C769.3 603.0 773.1 598.0 775.8 593.0C778.5 588.0 779.4 582.0 781.8 583.0C784.2 584.0 787.3 592.3 790.0 599.0C792.7 605.7 795.2 613.2 798.0 623.4C800.8 633.6 803.5 645.9 806.8 660.0C810.1 674.1 814.0 693.8 817.6 708.1C821.2 722.4 824.8 734.2 828.4 745.9C832.0 757.6 835.2 768.0 839.2 778.4C843.2 788.8 848.2 799.5 852.7 808.1C857.2 816.7 861.7 823.4 866.2 829.7C870.7 836.0 875.2 841.4 879.7 845.9C884.2 850.4 886.4 852.7 893.2 856.8C900.0 860.9 911.3 866.9 920.3 870.3C929.3 873.7 938.3 875.2 947.3 877.0C956.3 878.8 965.3 880.5 974.3 881.0C983.3 881.5 990.4 880.8 1001.4 879.7C1012.4 878.6 1027.2 876.5 1040.5 874.3C1053.8 872.0 1067.5 869.9 1081.0 866.2C1094.5 862.5 1108.1 857.1 1121.6 852.0C1135.1 846.9 1148.7 840.9 1162.2 835.8C1175.7 830.7 1189.2 826.3 1202.7 821.6C1216.2 816.9 1229.7 810.8 1243.2 807.4C1256.7 804.0 1270.3 802.4 1283.8 801.4C1297.3 800.4 1310.8 799.0 1324.3 801.4C1337.8 803.8 1354.0 811.7 1364.9 816.0C1375.9 820.3 1382.5 823.8 1390.0 827.0C1397.5 830.2 1400.0 831.8 1410.0 835.4C1420.0 839.0 1435.0 843.8 1450.0 848.9C1465.0 854.0 1483.3 860.1 1500.0 865.7C1516.7 871.3 1534.7 877.4 1550.0 882.6C1565.3 887.8 1579.4 892.5 1592.0 896.7C1604.6 900.9 1613.1 905.5 1625.7 908.0C1638.3 910.5 1653.6 911.0 1667.6 912.0C1681.6 913.0 1695.5 912.8 1709.5 914.2C1723.5 915.6 1737.4 917.7 1751.4 920.5C1765.4 923.3 1779.4 927.2 1793.3 931.0C1807.2 934.8 1821.0 939.7 1835.0 943.5C1849.0 947.3 1863.0 951.2 1877.0 954.0C1891.0 956.8 1905.0 958.5 1919.0 960.3C1933.0 962.0 1946.8 962.8 1960.8 964.5C1974.8 966.2 1990.0 968.7 2002.7 970.8C2015.4 972.9 2031.3 976.0 2037.0 977.0" stroke="#000" stroke-width="9.6"/>
<!-- 50/70 traced -->
<path d="M328.0 466.0L333.0 481.0L338.0 496.0M334.0 518.0L342.0 512.0L350.0 524.0L356.0 544.0L347.0 553.0M357.0 577.0L366.0 566.0L386.0 582.0L420.0 576.0L422.0 581.0M440.0 590.0L452.0 598.0L464.0 582.0M472.0 558.0L478.0 541.0L484.0 524.0M488.0 500.0L494.0 481.0L500.0 464.0L509.0 450.0L518.0 440.0M519.0 459.0L536.0 464.0L544.0 478.0L550.0 490.0M543.0 512.0L556.0 516.0L561.0 532.0L566.0 548.0M563.0 568.0L572.0 574.0L578.0 590.0L584.0 606.0M583.0 624.0L596.0 630.0L601.0 640.0L606.0 650.0M614.0 670.0L631.0 676.0L648.0 680.0M660.0 658.0L671.0 643.0L682.0 630.0M700.0 638.0L710.0 648.0L720.0 656.0L732.0 644.0L743.0 630.0M381.2 594.0h9.5M411.2 594.0h9.5M433.2 610.0h9.5M465.2 568.0h9.5M483.2 511.0h9.5M545.2 546.0h9.5M565.2 600.0h9.5M591.2 654.0h9.5M609.2 682.0h9.5" stroke="#000" stroke-width="9.4" stroke-linejoin="round"/>
<!-- 50 -->
<path d="M743.0 606.4L743.1 605.7L743.5 603.4L743.9 601.1L744.2 598.7L744.6 596.3L745.0 593.8L745.4 591.3L745.8 588.9L746.1 586.4L746.5 584.0L746.9 581.7L747.2 579.4L747.6 577.1L748.0 575.0L748.4 572.9L748.8 570.9L749.1 569.0L749.5 567.1L749.9 565.2L750.2 563.4L750.6 561.6L751.0 559.8L751.4 558.0L751.8 556.2L752.1 554.4L752.5 552.5L752.9 550.7L753.2 548.8L753.6 546.9L754.0 545.0L754.4 543.0L754.8 541.0L755.1 538.9L755.5 536.9L755.9 534.8L756.2 532.7L756.6 530.6L757.0 528.4L757.4 526.3L757.8 524.2L758.1 522.1L758.5 520.0L758.9 518.0L759.2 516.0L759.6 514.0L760.0 512.0L760.4 510.1L760.8 508.2L761.1 506.3L761.5 504.4L761.9 502.6L762.2 500.8L762.6 499.0L763.0 497.2L763.4 495.4L763.8 493.6L764.1 491.9L764.5 490.1L764.9 488.3L765.2 486.5L765.6 484.8L766.0 483.0L766.4 481.2L766.7 479.4L767.1 477.5L767.5 475.7L767.8 473.8L768.2 471.9L768.6 470.1L768.9 468.2L769.3 466.4L769.7 464.7L770.1 462.9L770.4 461.2L770.8 459.6L771.2 458.0L771.6 456.4L772.0 455.0L772.4 453.6L772.8 452.1L773.2 450.7L773.6 449.2L774.0 447.8L774.4 446.5L774.8 445.1L775.2 443.9L775.6 442.7L776.0 441.6L776.5 440.7L776.9 439.8L777.4 439.1L777.9 438.6L778.5 438.2L779.0 438.0L779.6 438.0L780.2 438.2L780.8 438.5L781.5 439.0L782.2 439.6L782.9 440.4L783.6 441.2L784.3 442.2L785.0 443.2L785.8 444.4L786.5 445.6L787.2 446.8L787.9 448.1L788.6 449.4L789.3 450.7L790.0 452.0L790.7 453.4L791.3 454.8L792.0 456.3L792.7 457.9L793.3 459.5L794.0 461.2L794.7 462.9L795.3 464.7L796.0 466.5L796.6 468.4L797.2 470.3L797.8 472.2L798.4 474.1L798.9 476.1L799.5 478.0L800.0 480.0L800.5 482.0L801.0 484.0L801.4 486.1L801.8 488.2L802.2 490.4L802.6 492.6L803.0 494.8L803.4 497.0L803.7 499.3L804.1 501.5L804.4 503.8L804.7 506.1L805.0 508.3L805.4 510.6L805.7 512.8L806.0 515.0L806.3 517.2L806.6 519.4L806.9 521.6L807.1 523.7L807.4 525.9L807.6 528.1L807.9 530.3L808.1 532.5L808.3 534.7L808.6 536.9L808.8 539.1L809.1 541.3L809.3 543.6L809.6 545.9L809.9 548.2L810.2 550.5L810.5 552.9L810.8 555.3L811.2 557.7L811.5 560.2L811.9 562.7L812.2 565.2L812.6 567.7L813.0 570.3L813.4 572.8L813.7 575.3L814.1 577.9L814.5 580.3L814.9 582.8L815.3 585.3L815.6 587.6L816.0 590.0L816.4 592.3L816.7 594.6L817.1 596.8L817.4 599.1L817.8 601.3L818.1 603.5L818.5 605.6L818.9 607.8L819.2 609.9L819.6 612.1L820.0 614.2L820.4 616.4L820.7 618.5L821.2 620.7L821.6 622.8L822.0 625.0L822.4 627.2L822.9 629.3L823.4 631.5L823.9 633.6L824.4 635.8L824.9 637.9L825.4 640.0L825.9 642.2L826.4 644.3L826.9 646.5L827.4 648.7L828.0 650.9L828.5 653.1L829.0 655.4L829.5 657.7L830.0 660.0L830.5 662.4L831.0 664.8L831.5 667.2L832.0 669.6L832.5 672.1L833.0 674.6L833.5 677.2L834.0 679.7L834.5 682.2L835.0 684.8L835.5 687.3L836.0 689.9L836.5 692.4L837.0 695.0L837.5 697.5L838.0 700.0L838.5 702.5L839.0 705.0L839.5 707.5L840.0 710.0L840.5 712.5L841.0 715.0L841.4 717.5L841.9 720.0L842.4 722.5L842.9 725.0L843.4 727.5L843.9 730.0L844.4 732.5L845.0 735.0L845.5 737.5L846.0 740.0L846.5 742.5L847.1 745.0L847.6 747.5L848.2 750.0L848.7 752.5L849.3 755.0L849.8 757.5L850.4 760.0L850.9 762.5L851.5 765.0L852.1 767.5L852.7 770.0L853.2 772.5L853.8 775.0L854.4 777.5L855.0 780.0L855.6 782.5L856.2 785.1L856.8 787.6L857.4 790.2L858.1 792.8L858.7 795.4L859.3 797.9L859.9 800.5L860.6 803.1L861.2 805.6L861.8 808.1L862.5 810.6L863.1 813.0L863.7 815.4L864.4 817.7L865.0 820.0L865.6 822.2L866.2 824.4L866.9 826.5L867.5 828.5L868.1 830.6L868.7 832.5L869.3 834.5L869.9 836.4L870.6 838.4L871.2 840.3L871.8 842.2L872.4 844.1L873.1 846.1L873.7 848.0L874.3 850.0L875.0 852.0L875.7 854.0L876.3 856.1L877.0 858.2L877.6 860.2L878.3 862.3L878.9 864.4L879.6 866.5L880.2 868.6L880.9 870.7L881.6 872.8L882.3 874.9L883.0 876.9L883.7 879.0L884.5 881.0L885.2 883.0L886.0 885.0L886.8 887.0L887.6 889.0L888.4 891.0L889.3 892.9L890.1 894.9L891.0 896.9L891.9 898.9L892.8 900.8L893.6 902.7L894.5 904.6L895.5 906.5L896.4 908.3L897.3 910.0L898.2 911.7L899.1 913.4L900.0 915.0L900.9 916.5L901.7 918.0L902.6 919.4L903.4 920.7L904.2 922.0L905.0 923.3L905.8 924.5L906.7 925.7L907.6 926.9L908.5 928.0L909.4 929.2L910.4 930.3L911.4 931.5L912.5 932.6L913.7 933.8L915.0 935.0L916.3 936.2L917.8 937.5L919.2 938.8L920.8 940.1L922.3 941.3L924.0 942.6L925.7 943.9L927.4 945.2L929.1 946.4L930.9 947.7L932.7 948.8L934.5 950.0L936.4 951.1L938.3 952.1L940.1 953.1L942.0 954.0L943.9 954.9L944.0 954.9" stroke="#000" stroke-width="9.4" stroke-dasharray="9.5 19" stroke-dashoffset="0"/>
<!-- 70 -->
<path d="M743.0 628.8L743.1 628.6L743.4 627.3L743.8 625.9L744.1 624.6L744.4 623.3L744.8 621.9L745.1 620.4L745.4 619.0L745.7 617.5L746.0 615.9L746.4 614.3L746.7 612.6L747.0 610.8L747.4 609.0L747.8 607.1L748.1 605.0L748.5 602.9L748.9 600.7L749.3 598.4L749.6 596.1L750.0 593.7L750.4 591.3L750.8 588.9L751.2 586.5L751.6 584.1L752.0 581.7L752.3 579.4L752.7 577.1L753.1 574.9L753.5 572.8L753.9 570.7L754.3 568.7L754.6 566.8L755.0 564.8L755.4 562.9L755.8 561.1L756.2 559.2L756.6 557.4L756.9 555.5L757.3 553.7L757.7 551.9L758.1 550.0L758.5 548.1L758.8 546.3L759.2 544.3L759.6 542.4L760.0 540.4L760.4 538.4L760.7 536.4L761.1 534.3L761.5 532.3L761.9 530.2L762.2 528.1L762.6 526.1L763.0 524.0L763.3 521.9L763.7 519.9L764.1 517.9L764.5 515.9L764.8 513.9L765.2 511.9L765.6 510.0L766.0 508.1L766.4 506.3L766.7 504.4L767.1 502.6L767.5 500.8L767.9 499.1L768.3 497.3L768.6 495.6L769.0 493.8L769.4 492.1L769.8 490.3L770.2 488.6L770.6 486.9L770.9 485.1L771.3 483.4L771.7 481.6L772.1 479.8L772.4 478.0L772.8 476.2L773.2 474.3L773.5 472.5L773.9 470.6L774.3 468.8L774.6 466.9L775.0 465.1L775.4 463.3L775.7 461.5L776.1 459.8L776.5 458.1L776.9 456.4L777.4 454.8L777.8 453.2L778.3 451.6L778.7 450.0L779.2 448.4L779.7 446.7L780.1 445.1L780.6 443.5L781.1 441.9L781.7 440.4L782.2 438.9L782.7 437.6L783.2 436.3L783.8 435.1L784.3 434.1L784.9 433.3L785.4 432.5L786.0 432.0L786.6 431.6L787.2 431.3L787.8 431.2L788.4 431.1L789.0 431.2L789.6 431.4L790.2 431.6L790.9 432.0L791.5 432.5L792.2 433.1L792.8 433.8L793.4 434.7L794.1 435.6L794.7 436.6L795.4 437.8L796.0 439.0L796.6 440.4L797.3 442.0L798.0 443.9L798.6 445.8L799.3 448.0L800.0 450.2L800.7 452.5L801.4 454.9L802.0 457.4L802.7 459.8L803.3 462.3L803.9 464.7L804.5 467.0L805.1 469.3L805.7 471.5L806.2 473.5L806.7 475.4L807.2 477.3L807.6 479.1L808.0 480.9L808.4 482.7L808.8 484.4L809.2 486.1L809.6 487.8L809.9 489.5L810.3 491.2L810.6 492.9L810.9 494.6L811.3 496.3L811.6 498.1L811.9 499.9L812.2 501.8L812.5 503.7L812.8 505.5L813.1 507.3L813.3 509.0L813.6 510.8L813.8 512.5L814.0 514.3L814.2 516.1L814.5 518.0L814.7 520.0L814.9 522.1L815.2 524.2L815.4 526.5L815.7 529.0L816.0 531.5L816.3 534.3L816.6 537.3L817.0 540.6L817.3 544.1L817.7 547.9L818.1 551.8L818.4 555.8L818.8 559.9L819.2 564.0L819.6 568.1L820.0 572.2L820.4 576.2L820.8 580.0L821.2 583.6L821.6 587.0L822.0 590.2L822.4 593.0L822.8 595.5L823.2 597.8L823.5 599.9L823.9 601.7L824.3 603.4L824.7 605.0L825.0 606.5L825.4 607.8L825.8 609.2L826.1 610.5L826.5 611.8L826.9 613.1L827.3 614.5L827.6 616.0L828.0 617.6L828.4 619.4L828.8 621.2L829.1 623.1L829.5 625.0L829.9 626.9L830.3 628.9L830.6 630.9L831.0 632.8L831.4 634.9L831.7 636.9L832.1 639.0L832.5 641.0L832.9 643.2L833.3 645.3L833.7 647.4L834.1 649.6L834.5 651.8L834.9 654.0L835.4 656.3L835.8 658.5L836.3 660.8L836.7 663.1L837.2 665.4L837.7 667.7L838.1 670.1L838.6 672.5L839.1 674.9L839.6 677.4L840.1 679.8L840.5 682.3L841.0 684.9L841.5 687.4L842.0 690.0L842.5 692.6L843.0 695.3L843.5 698.1L844.0 700.9L844.5 703.7L845.0 706.6L845.5 709.5L846.0 712.4L846.5 715.3L847.0 718.2L847.5 721.1L848.0 723.9L848.5 726.8L849.0 729.6L849.5 732.3L850.0 735.0L850.5 737.6L851.0 740.2L851.5 742.8L852.0 745.4L852.4 747.9L852.9 750.4L853.4 752.8L853.9 755.3L854.4 757.8L854.9 760.2L855.4 762.7L855.9 765.1L856.4 767.6L856.9 770.0L857.4 772.5L858.0 775.0L858.6 777.5L859.1 780.0L859.7 782.6L860.3 785.1L860.9 787.7L861.5 790.2L862.1 792.8L862.8 795.3L863.4 797.8L864.0 800.4L864.7 802.9L865.3 805.4L866.0 807.8L866.7 810.2L867.3 812.6L868.0 815.0L868.7 817.3L869.4 819.7L870.2 822.0L871.0 824.3L871.8 826.5L872.7 828.8L873.5 831.0L874.3 833.2L875.1 835.4L875.9 837.6L876.7 839.7L877.4 841.8L878.0 843.9L878.7 846.0L879.2 848.0L879.7 850.0L880.1 851.9L880.4 853.8L880.6 855.7L880.7 857.5L880.8 859.2L880.8 861.0L880.8 867.7L880.9 869.5L881.0 871.2L881.2 872.9L881.5 874.7L881.9 876.5L882.4 878.4L883.0 880.3L883.8 882.4L884.6 884.4L885.6 886.5L886.6 888.7L887.6 890.9L888.7 893.0L889.8 895.2L891.0 897.3L892.1 899.5L893.3 901.5L894.4 903.6L895.5 905.5L896.6 907.4L897.6 909.1L898.6 910.8L899.5 912.3L900.3 913.8L901.1 915.1L901.8 916.4L902.5 917.6L903.2 918.8L903.9 919.9L904.6 920.9L905.3 922.0L906.0 923.0L906.8 924.0L907.7 925.1L908.7 926.2L909.7 927.3L910.9 928.5L912.2 929.7L913.6 931.0L915.3 932.4L917.0 933.8L918.9 935.3L920.8 936.9L922.9 938.4L925.0 940.0L927.1 941.5L929.2 943.0L931.2 944.4L933.3 945.8L935.2 947.2L937.1 948.4L938.9 949.5L940.5 950.5L941.9 951.4L943.2 952.1L944.0 952.6" stroke="#000" stroke-width="9.4" stroke-dasharray="37 20" stroke-dashoffset="12.0"/>
<!-- 50+70 -->
<path d="M953.6 955.0L954.4 955.2L955.4 955.4L956.5 955.7L957.6 956.0L958.8 956.3L960.0 956.6L961.2 956.9L962.5 957.2L963.8 957.6L965.1 957.9L966.4 958.2L967.7 958.5L969.0 958.8L970.2 959.1L971.5 959.4L972.7 959.6L973.9 959.8L975.0 960.0L976.1 960.2L977.1 960.3L978.1 960.5L979.0 960.6L979.9 960.7L980.8 960.8L981.7 960.9L982.6 960.9L983.5 961.0L984.4 961.0L985.3 961.0L986.3 961.0L987.3 961.0L988.3 961.0L989.4 960.9L990.5 960.8L991.7 960.7L993.0 960.5L994.3 960.4L994.5 960.3M1011.5 957.0L1012.2 956.8L1013.4 956.5L1014.5 956.2L1015.6 955.8L1016.6 955.5L1017.7 955.1L1018.7 954.7L1019.7 954.4L1020.6 954.0L1021.6 953.6L1022.6 953.2L1023.5 952.9L1024.5 952.6L1025.4 952.2L1026.4 951.9L1027.4 951.6L1028.4 951.4L1029.4 951.2L1030.3 951.0L1031.3 950.9L1032.2 950.8L1033.1 950.7L1033.9 950.6L1034.8 950.6L1035.7 950.5L1036.7 950.5L1037.6 950.4L1038.6 950.3L1039.7 950.2L1040.8 950.0L1042.0 949.8L1043.3 949.6L1044.6 949.3L1046.0 949.0L1047.6 948.6L1049.2 948.3L1050.9 947.9L1052.4 947.6M1067.7 943.4L1067.8 943.4L1069.6 942.7L1071.3 942.0L1073.0 941.2L1074.6 940.3L1076.2 939.4L1077.8 938.4L1079.4 937.3L1080.9 936.2L1082.4 935.0L1083.9 933.8L1085.4 932.6L1086.9 931.4L1088.4 930.1L1089.8 928.9L1091.3 927.6L1092.8 926.4L1094.3 925.2L1095.8 924.1L1097.3 923.0L1098.8 921.9L1100.4 920.9L1101.9 919.9L1103.5 919.0L1103.5 918.9M1113.7 912.6L1114.3 912.2L1115.8 911.2L1117.3 910.2L1118.8 909.1L1120.2 908.0L1121.6 906.8L1123.0 905.6L1124.3 904.3L1125.7 902.9L1127.0 901.6L1128.2 900.1L1129.5 898.7L1130.8 897.3L1132.0 895.8L1133.2 894.3L1134.5 892.8L1135.7 891.4L1136.9 889.9L1138.2 888.5L1139.4 887.1L1140.6 885.8L1141.9 884.5L1143.2 883.3L1144.4 882.1L1145.6 880.9L1146.9 879.8L1147.8 879.0M1158.0 870.1L1158.1 869.9L1159.5 868.7L1160.8 867.5L1162.2 866.2L1163.6 864.8L1165.0 863.4L1166.5 861.9L1168.0 860.4L1169.5 858.8L1171.0 857.2L1172.6 855.5L1174.1 853.9L1175.7 852.3L1177.2 850.7L1178.8 849.1L1180.3 847.5L1181.9 846.0L1183.4 844.6L1185.0 843.2L1186.5 841.9L1188.0 840.7L1189.5 839.5L1191.1 838.4L1192.6 837.3L1194.1 836.2L1195.6 835.2L1197.1 834.3L1198.6 833.3L1200.2 832.4L1201.7 831.4L1203.2 830.5L1204.7 829.6L1206.2 828.6L1207.8 827.7L1209.3 826.7L1210.8 825.7L1212.3 824.7L1213.8 823.6L1215.4 822.6L1216.9 821.5L1218.4 820.4L1219.9 819.4L1221.4 818.3L1222.0 817.9M1236.0 809.0L1236.6 808.7L1238.1 807.9L1239.7 807.2L1241.2 806.5L1242.7 805.8L1244.2 805.1L1245.8 804.5L1247.3 803.9L1248.8 803.3L1250.4 802.7L1251.9 802.1L1253.4 801.6L1254.9 801.0L1256.5 800.4L1258.0 799.9L1259.5 799.3L1261.0 798.7L1262.0 798.4M1280.0 792.2L1280.8 792.0L1282.3 791.6L1283.8 791.2L1285.3 790.8L1286.8 790.4L1288.4 790.1L1289.9 789.7L1291.4 789.3L1292.9 789.0L1294.4 788.6L1296.0 788.3L1297.5 788.0L1299.0 787.8L1300.5 787.6L1302.0 787.4L1303.5 787.3L1305.1 787.2L1306.6 787.2L1308.1 787.2L1309.6 787.3L1311.1 787.4L1312.7 787.6L1314.2 787.8L1315.7 788.1L1317.2 788.4L1318.7 788.7L1320.2 789.1L1321.8 789.5L1323.3 789.9L1324.8 790.4L1326.3 790.9L1327.8 791.4L1329.4 792.0L1330.9 792.6L1332.0 793.0M1345.0 799.6L1346.4 800.5L1348.0 801.4L1349.5 802.4L1351.0 803.4L1352.5 804.4L1354.0 805.4L1355.4 806.4L1356.8 807.4L1358.2 808.4L1359.5 809.5L1360.7 810.6L1362.0 811.6L1363.1 812.8L1364.3 813.9L1365.5 815.0L1366.7 816.2L1367.8 817.3L1369.0 818.5L1370.2 819.7L1371.5 820.9L1372.8 822.1L1374.1 823.3L1375.5 824.5L1377.0 825.7L1378.5 826.9L1380.2 828.1L1381.8 829.3L1383.5 830.5L1385.0 831.5M1396.0 838.9L1396.2 839.1L1398.1 840.4L1400.0 841.7L1401.8 843.1L1403.6 844.5L1405.4 845.9L1407.2 847.4L1409.0 848.9L1410.8 850.6L1412.6 852.2L1414.4 853.9L1416.2 855.6L1418.0 857.3L1419.9 859.1L1421.7 860.8L1423.5 862.6L1425.2 864.3L1427.0 866.0L1428.7 867.6L1430.4 869.2L1432.1 870.8L1433.8 872.3L1435.4 873.7L1437.0 875.2L1438.6 876.5L1440.2 877.9L1440.5 878.2M1452.4 888.2L1453.6 889.1L1455.1 890.3L1456.6 891.5L1458.1 892.6L1459.6 893.7L1461.1 894.8L1462.7 895.9L1464.2 896.9L1465.7 897.9L1467.2 898.9L1468.7 899.9L1470.2 900.8L1471.8 901.8L1473.3 902.8L1474.8 903.7L1476.3 904.7L1477.8 905.7L1479.4 906.7L1480.9 907.7L1482.4 908.8L1483.9 909.9L1485.4 911.0L1486.5 911.8M1500.0 922.3L1500.7 922.8L1502.2 923.9L1503.8 925.0L1505.3 926.0L1506.8 927.0L1508.3 927.9L1509.9 928.8L1511.4 929.6L1513.0 930.4L1514.5 931.1L1516.1 931.8L1517.6 932.5L1519.2 933.2L1520.7 933.9L1522.2 934.6L1523.7 935.3L1525.2 936.0L1526.7 936.8L1528.2 937.5L1529.6 938.3L1531.0 939.2L1532.4 940.1L1533.7 941.0L1535.0 941.9L1536.3 942.9L1537.5 943.8L1538.8 944.8L1540.0 945.8L1541.2 946.8L1542.4 947.8L1543.6 948.8L1544.9 949.9L1546.1 951.0L1547.4 952.1L1548.7 953.2L1550.0 954.3L1551.4 955.4L1552.8 956.6L1554.3 957.8L1555.8 959.1L1556.3 959.5M1570.0 971.2L1570.1 971.3L1571.6 972.5L1573.0 973.6L1574.4 974.7L1575.7 975.7L1576.9 976.6L1578.0 977.3L1579.0 978.0L1579.9 978.5L1580.8 979.0L1581.6 979.4L1582.4 979.8L1583.3 980.2L1584.1 980.7L1585.0 981.1L1585.9 981.6L1586.9 982.1L1588.0 982.8L1589.2 983.5L1590.5 984.4L1592.0 985.4L1593.6 986.6L1595.3 987.9L1597.1 989.3L1599.0 990.8L1601.0 992.4L1603.0 994.1L1605.1 995.8L1607.0 997.4M1625.0 1010.2L1625.7 1010.6L1628.1 1011.9L1630.5 1013.2L1633.0 1014.4L1635.6 1015.6L1638.2 1016.7L1640.8 1017.8L1643.5 1018.9L1646.1 1020.0L1648.8 1021.0L1651.5 1022.0L1654.2 1023.0L1656.9 1023.9L1659.6 1024.8L1662.0 1025.6M1680.0 1030.5L1680.7 1030.6L1683.3 1031.2L1685.9 1031.7L1688.5 1032.2L1691.2 1032.6L1693.8 1033.1L1696.4 1033.5L1699.0 1033.9L1701.6 1034.4L1704.3 1034.8L1706.9 1035.2L1709.5 1035.7L1712.1 1036.1L1714.7 1036.5L1717.4 1036.9L1718.0 1037.0M1737.0 1039.3L1738.3 1039.5L1740.9 1039.9L1743.5 1040.3L1746.2 1040.8L1748.8 1041.4L1751.4 1042.0L1754.0 1042.7L1756.6 1043.4L1759.3 1044.1L1761.9 1044.8L1764.5 1045.6L1767.1 1046.4L1769.7 1047.2L1772.4 1048.1L1775.0 1049.0L1776.0 1049.4M1793.0 1056.5L1793.3 1056.6L1795.9 1057.9L1798.5 1059.2L1801.1 1060.6L1803.7 1062.1L1806.3 1063.6L1808.9 1065.1L1811.5 1066.7L1814.1 1068.3L1816.7 1069.9L1819.3 1071.6L1822.0 1073.3L1824.6 1075.0L1827.2 1076.7L1828.0 1077.2M1843.0 1087.4L1845.5 1089.2L1848.1 1091.2L1850.7 1093.2L1853.4 1095.2L1856.0 1097.2L1858.6 1099.2L1861.2 1101.1L1863.9 1103.0L1866.5 1104.8L1869.1 1106.5L1871.7 1108.1L1874.4 1109.6L1876.0 1110.5M1892.0 1117.0L1892.8 1117.2L1895.4 1118.0L1898.0 1118.7L1900.6 1119.4L1903.3 1120.1L1905.9 1120.7L1908.5 1121.3L1911.1 1121.9L1913.8 1122.5L1916.4 1123.1L1919.0 1123.7L1921.6 1124.3L1924.2 1124.9L1926.8 1125.4L1929.5 1125.9L1930.0 1126.0M1948.0 1128.9L1950.3 1129.2L1953.0 1129.6L1955.6 1130.1L1958.2 1130.5L1960.8 1131.0L1963.4 1131.5L1966.1 1132.0L1968.9 1132.6L1971.6 1133.1L1974.4 1133.7L1977.2 1134.2L1980.0 1134.8L1982.8 1135.4L1985.5 1135.9L1987.0 1136.2M2004.0 1139.8L2004.8 1139.9L2006.9 1140.4L2008.9 1140.8L2010.9 1141.2L2012.8 1141.6L2014.7 1142.0L2016.5 1142.4L2018.2 1142.8L2019.9 1143.1L2021.4 1143.5L2022.9 1143.8L2024.2 1144.1L2025.5 1144.4L2026.6 1144.6L2027.6 1144.8L2028.5 1145.0" stroke="#000" stroke-width="10.0"/>
</g>
</g>
<g filter="url(#soft2)">
<g class="c" clip-path="url(#plot)">
<!-- 100 -->
<path d="M328.4 413.5C328.9 414.6 329.9 414.2 331.3 420.0C332.7 425.8 334.1 438.9 337.0 448.4C339.9 457.8 344.9 468.2 348.4 476.7C351.9 485.2 354.3 492.5 357.8 499.4C361.3 506.3 364.5 513.1 369.2 518.3C373.9 523.5 379.9 529.5 386.2 530.6C392.5 531.7 400.5 525.3 407.0 525.0C413.5 524.7 418.7 527.0 425.0 529.0C431.3 531.0 439.8 535.0 445.0 537.0C450.2 539.0 453.3 540.3 456.0 541.0C458.7 541.7 459.0 543.8 461.0 541.0C463.0 538.2 465.7 530.3 468.0 524.0C470.3 517.7 472.7 510.0 475.0 503.0C477.3 496.0 479.6 489.2 482.0 482.0C484.4 474.8 486.9 467.3 489.2 460.0C491.5 452.7 493.7 445.3 496.0 438.0C498.3 430.7 500.8 422.8 503.0 416.0C505.2 409.2 507.2 402.0 509.0 397.0C510.8 392.0 512.2 388.5 514.0 386.0C515.8 383.5 517.8 382.5 519.5 382.0C521.2 381.5 522.9 382.4 524.5 383.0C526.1 383.6 527.4 383.3 529.0 385.5C530.6 387.7 532.2 391.9 534.0 396.0C535.8 400.1 537.7 405.5 539.5 410.0C541.3 414.5 543.2 418.5 545.0 423.0C546.8 427.5 546.4 425.6 550.5 437.0C554.6 448.4 564.1 475.0 569.7 491.6C575.3 508.2 579.2 521.1 583.9 536.5C588.6 551.9 594.1 572.9 598.0 583.9C601.9 594.9 602.8 594.9 607.5 602.8C612.2 610.7 620.5 624.9 626.4 631.2C632.3 637.5 637.4 640.6 643.0 640.6C648.6 640.6 653.4 638.4 660.3 631.5C667.2 624.6 678.5 605.4 684.6 599.0C690.7 592.6 692.6 593.0 697.0 593.0C701.4 593.0 706.0 595.6 711.0 599.0C716.0 602.4 722.2 611.3 727.0 613.3C731.8 615.3 736.7 613.2 740.0 611.0C743.3 608.8 744.3 608.5 747.0 600.0C749.7 591.5 753.0 574.2 756.0 560.0C759.0 545.8 762.0 530.0 765.0 515.0C768.0 500.0 771.2 484.0 774.0 470.0C776.8 456.0 779.1 443.6 781.8 431.0C784.5 418.4 787.6 401.6 790.0 394.5C792.4 387.4 794.0 389.1 796.0 388.4C798.0 387.6 799.3 384.6 802.0 390.0C804.7 395.4 808.6 405.7 812.0 421.0C815.4 436.3 819.3 458.0 822.4 481.6C825.5 505.2 827.1 535.6 830.5 562.6C833.9 589.6 838.5 617.2 842.6 643.7C846.8 670.2 851.5 697.4 855.4 721.6C859.3 745.9 862.2 771.2 866.2 789.2C870.2 807.2 875.2 817.1 879.7 829.7C884.2 842.3 888.2 853.2 893.2 864.9C898.2 876.6 905.0 890.1 909.5 900.0C914.0 909.9 914.9 916.6 920.3 924.3C925.7 931.9 932.8 940.3 941.9 945.9C951.0 951.5 965.3 956.0 975.0 958.0C984.7 960.0 988.4 959.5 1000.0 958.0C1011.6 956.5 1032.4 952.1 1044.6 949.3C1056.8 946.5 1064.2 945.6 1073.0 941.2C1081.8 936.8 1089.2 929.4 1097.3 923.0C1105.4 916.6 1110.8 913.8 1121.6 903.0C1132.4 892.2 1148.7 871.7 1162.2 858.1C1175.7 844.5 1189.2 833.1 1202.7 821.6C1216.2 810.1 1229.7 797.6 1243.2 789.2C1256.7 780.8 1273.0 774.7 1283.8 771.0C1294.6 767.3 1299.3 766.6 1308.1 766.9C1316.9 767.2 1327.0 769.0 1336.5 773.0C1346.0 777.0 1353.4 782.4 1364.9 791.2C1376.4 800.0 1391.9 814.6 1405.4 825.7C1418.9 836.9 1432.4 846.6 1445.9 858.1C1459.4 869.6 1473.0 883.5 1486.5 894.6C1500.0 905.8 1513.5 914.2 1527.0 925.0C1540.5 935.8 1556.8 950.4 1567.6 959.5C1578.4 968.6 1582.3 971.6 1592.0 979.7C1601.7 987.8 1613.1 1000.5 1625.7 1008.0C1638.3 1015.5 1653.6 1020.7 1667.6 1025.0C1681.6 1029.3 1695.5 1031.5 1709.5 1034.0C1723.5 1036.5 1737.4 1036.7 1751.4 1040.0C1765.4 1043.3 1779.4 1047.5 1793.3 1054.0C1807.2 1060.5 1821.0 1069.3 1835.0 1079.0C1849.0 1088.7 1863.0 1103.8 1877.0 1112.0C1891.0 1120.2 1905.0 1123.5 1919.0 1128.0C1933.0 1132.5 1946.8 1135.4 1960.8 1139.0C1974.8 1142.6 1989.8 1146.5 2002.7 1149.5C2015.6 1152.5 2032.1 1155.8 2038.0 1157.0" stroke="#101010" stroke-width="2.3"/>
</g>
</g>
<rect x="1592.6" y="90" width="436.4000000000001" height="1140" fill="#fff" fill-opacity="0.9"/>
<g class="c" filter="url(#soft)">
<path d="M1626.0 267.5 H1692.0" stroke="#c0c0c0" stroke-width="10.2" stroke-dasharray="40 20"/>
<path d="M1626.0 390.8 H1692.0" stroke="#848484" stroke-width="10.2"/>
<path d="M1626.0 514.1 H1692.0" stroke="#848484" stroke-width="10.2" stroke-dasharray="10 19.8"/>
<path d="M1626.0 637.4 H1692.0" stroke="#848484" stroke-width="10.2" stroke-dasharray="40 20"/>
<path d="M1626.0 760.7 H1692.0" stroke="#000" stroke-width="10.2"/>
<path d="M1626.0 884.0 H1692.0" stroke="#000" stroke-width="10.2" stroke-dasharray="10 19.8"/>
<path d="M1626.0 1007.3 H1692.0" stroke="#000" stroke-width="10.2" stroke-dasharray="40 20"/>
<path d="M1626.0 1130.6 H1692.0" stroke="#858585" stroke-width="7"/>
</g>
<g filter="url(#soft2)">
<g stroke="#000" stroke-width="3.3" fill="none">
<path d="M327.2 67.3 V1241.2"/>
<path d="M328.8 1243.3 H2039.7"/>
<path d="M294.8 1239.6H327.2M308.9 1156.0H327.2M294.8 1072.4H327.2M308.9 988.8H327.2M294.8 905.1H327.2M308.9 821.5H327.2M294.8 737.9H327.2M308.9 654.3H327.2M294.8 570.7H327.2M308.9 487.1H327.2M294.8 403.4H327.2M308.9 319.8H327.2M294.8 236.2H327.2M308.9 152.6H327.2M294.8 69.0H327.2"/>
<path d="M330.0 1243.3V1274.6M472.3 1243.3V1261.4M614.7 1243.3V1274.6M757.0 1243.3V1261.4M899.3 1243.3V1274.6M1041.7 1243.3V1261.4M1184.0 1243.3V1274.6M1326.3 1243.3V1261.4M1468.7 1243.3V1274.6M1611.0 1243.3V1261.4M1753.4 1243.3V1274.6M1895.7 1243.3V1261.4M2038.0 1243.3V1274.6"/>
</g>
<g class="t" stroke="#fff" stroke-width="0.7">
<text transform="translate(236.25 1270.69) scale(0.8418 0.8079)" font-size="100" letter-spacing="0.00">0</text>
<text transform="translate(126.03 1103.46) scale(0.8451 0.8079)" font-size="100" letter-spacing="-4.98">0.05</text>
<text transform="translate(168.23 936.23) scale(0.8451 0.8079)" font-size="100" letter-spacing="-3.49">0.1</text>
<text transform="translate(126.03 769.00) scale(0.8451 0.8079)" font-size="100" letter-spacing="-4.98">0.15</text>
<text transform="translate(168.23 601.77) scale(0.8451 0.8079)" font-size="100" letter-spacing="-1.23">0.2</text>
<text transform="translate(126.03 434.54) scale(0.8451 0.8079)" font-size="100" letter-spacing="-4.98">0.25</text>
<text transform="translate(168.23 267.31) scale(0.8451 0.8079)" font-size="100" letter-spacing="-2.23">0.3</text>
<text transform="translate(126.03 100.08) scale(0.8451 0.8079)" font-size="100" letter-spacing="-4.98">0.35</text>
<text transform="translate(261.49 1350.39) scale(0.8437 0.8066)" font-size="100" letter-spacing="-5.31">300</text>
<text transform="translate(543.99 1350.39) scale(0.8437 0.8066)" font-size="100" letter-spacing="-5.19">350</text>
<text transform="translate(830.40 1350.39) scale(0.8437 0.8066)" font-size="100" letter-spacing="-4.07">400</text>
<text transform="translate(1113.80 1350.39) scale(0.8437 0.8066)" font-size="100" letter-spacing="-4.48">450</text>
<text transform="translate(1398.39 1350.39) scale(0.8437 0.8066)" font-size="100" letter-spacing="-4.95">500</text>
<text transform="translate(1685.39 1350.39) scale(0.8437 0.8066)" font-size="100" letter-spacing="-4.83">550</text>
<text transform="translate(1968.52 1350.39) scale(0.8437 0.8066)" font-size="100" letter-spacing="-5.02">600</text>
</g>
<text class="t"><tspan x="1624.43" y="185.70" font-family="Liberation Sans" font-size="100.93" textLength="75.63" lengthAdjust="spacingAndGlyphs" stroke="#000" stroke-width="0.40" stroke-linejoin="round">φ</tspan><tspan x="1699.25" y="199.92" font-family="DejaVu Sans Condensed" font-size="68.77" textLength="92.29" lengthAdjust="spacingAndGlyphs" stroke="#000" stroke-width="0.50" stroke-linejoin="round">Tol</tspan><tspan x="1794.07" y="191.01" font-family="DejaVu Sans Condensed" font-size="152.92" textLength="36.13" lengthAdjust="spacingAndGlyphs" font-style="italic" stroke="#fff" stroke-width="3.00" stroke-linejoin="round">,</tspan> <tspan x="1857.08" y="185.51" font-family="DejaVu Sans Condensed" font-size="99.60" textLength="97.73" lengthAdjust="spacingAndGlyphs" stroke="#000" stroke-width="0.60" stroke-linejoin="round">%</tspan><tspan x="1957.69" y="201.45" font-family="DejaVu Sans Condensed" font-size="69.32" textLength="34.15" lengthAdjust="spacingAndGlyphs" stroke="#000" stroke-width="0.50" stroke-linejoin="round">V</tspan></text>
<g class="t" stroke="#000" stroke-width="1.0" stroke-linejoin="round">
<text transform="translate(1728.73 309.28) scale(1.0268 1.0106)" font-size="100" letter-spacing="-7.73">10</text>
<text transform="translate(1725.53 432.58) scale(1.0268 1.0106)" font-size="100" letter-spacing="-4.61">20</text>
<text transform="translate(1722.11 555.88) scale(1.0268 1.0106)" font-size="100" letter-spacing="-1.28">30</text>
<text transform="translate(1722.11 679.18) scale(1.0268 1.0106)" font-size="100" letter-spacing="-0.41">32.5</text>
<text transform="translate(1722.11 802.48) scale(1.0268 1.0106)" font-size="100" letter-spacing="0.72">35</text>
<text transform="translate(1723.71 925.78) scale(1.0268 1.0106)" font-size="100" letter-spacing="-2.84">50</text>
<text transform="translate(1723.80 1049.08) scale(1.0268 1.0106)" font-size="100" letter-spacing="-2.93">70</text>
<text transform="translate(1728.23 1172.38) scale(1.0268 1.0106)" font-size="100" letter-spacing="-4.66">100</text>
</g>
<g class="b">
<text><tspan x="1058.47" y="1443.30" font-family="DejaVu Sans" font-size="88.03" textLength="53.29" lengthAdjust="spacingAndGlyphs" font-weight="bold" stroke="#000" stroke-width="3.00" stroke-linejoin="round">λ</tspan><tspan x="1114.66" y="1447.00" font-family="DejaVu Sans" font-size="97.88" textLength="28.82" lengthAdjust="spacingAndGlyphs" font-weight="bold" font-style="italic">,</tspan> <tspan x="1166.29" y="1443.30" font-family="DejaVu Sans" font-size="83.57" textLength="144.72" lengthAdjust="spacingAndGlyphs" font-weight="bold" stroke="#000" stroke-width="3.00" stroke-linejoin="round">nm</tspan></text>
<text transform="translate(100.84 680.08) rotate(-90) scale(0.7513 0.8814)" font-size="100" stroke="#000" stroke-width="2.45" stroke-linejoin="round">A</text>
</g>
</g>
</svg>
</body>
</html>
